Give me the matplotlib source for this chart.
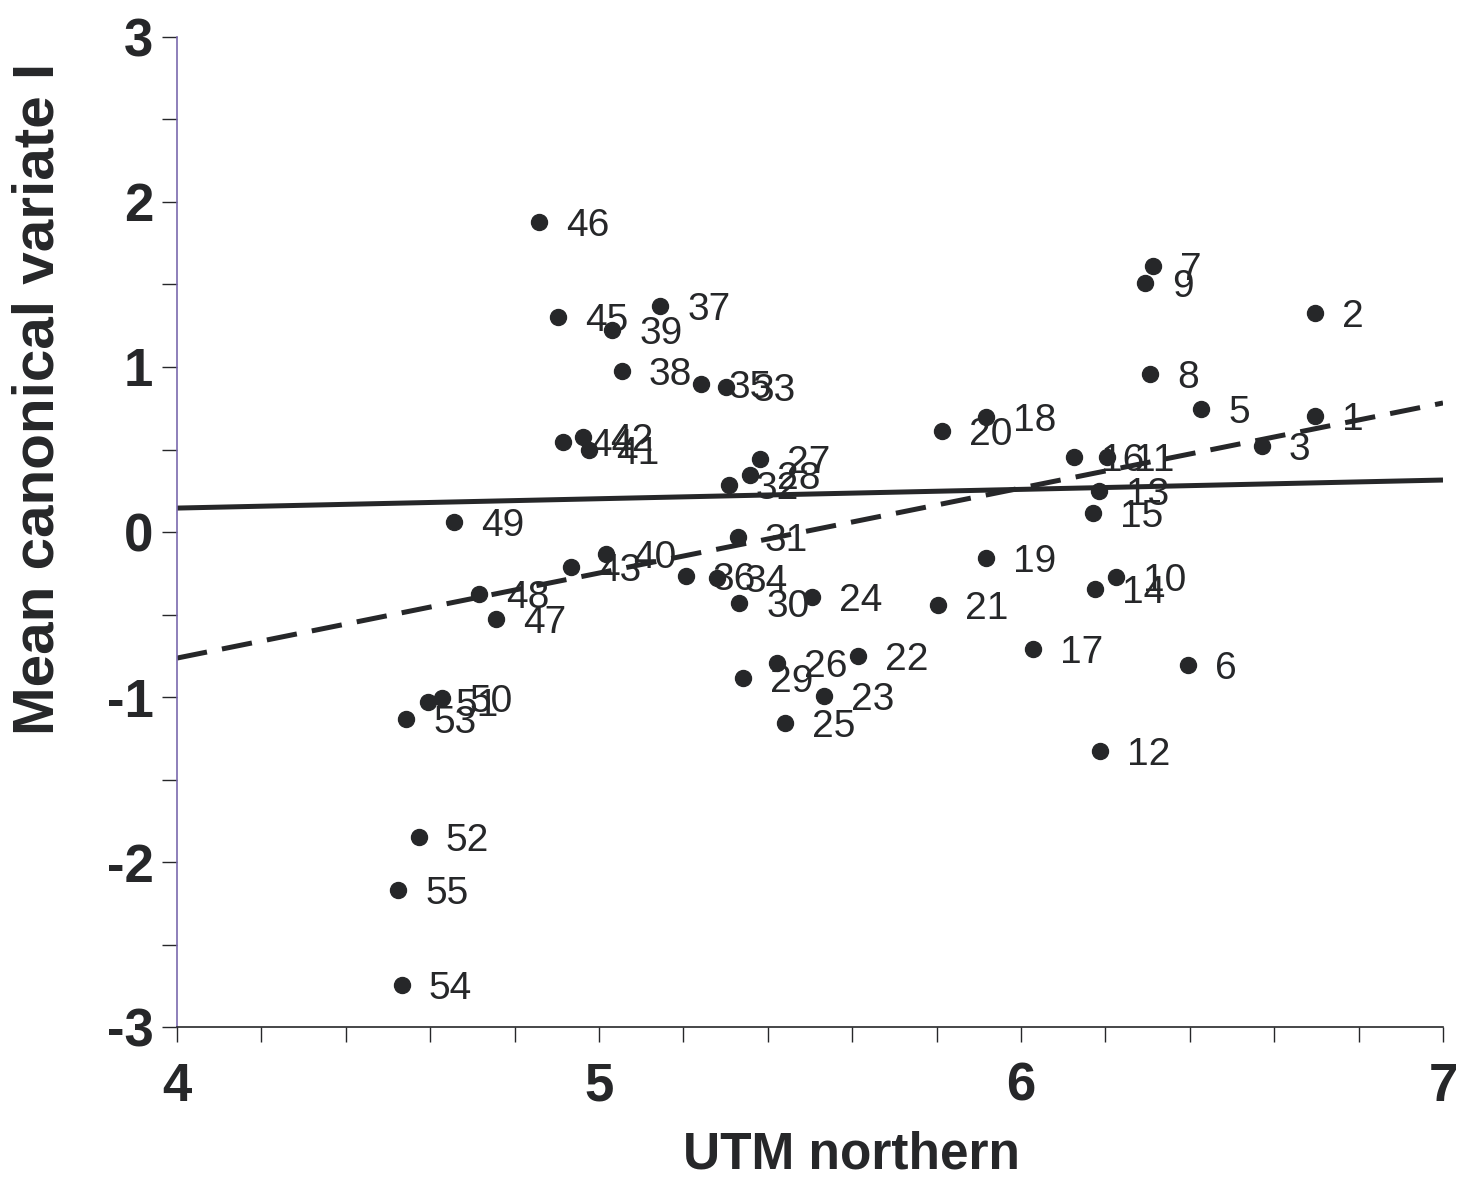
import numpy as np
import matplotlib
matplotlib.use("Agg")
import matplotlib.pyplot as plt
from matplotlib.ticker import MultipleLocator

# site means: UTM northern vs mean canonical variate I
sites = [1, 2, 3, 5, 6, 7, 8, 9, 10, 11, 12, 13, 14, 15, 16, 17, 18, 19, 20,
         21, 22, 23, 24, 25, 26, 27, 28, 29, 30, 31, 32, 33, 34, 35, 36, 37,
         38, 39, 40, 41, 42, 43, 44, 45, 46, 47, 48, 49, 50, 51, 52, 53, 54, 55]
utm = [6.697, 6.697, 6.571, 6.427, 6.396, 6.313, 6.306, 6.294, 6.225, 6.204,
       6.187, 6.185, 6.175, 6.171, 6.126, 6.028, 5.917, 5.917, 5.813, 5.803,
       5.614, 5.533, 5.505, 5.441, 5.422, 5.382, 5.358, 5.341, 5.332, 5.329,
       5.308, 5.301, 5.280, 5.242, 5.206, 5.145, 5.054, 5.031, 5.017, 4.976,
       4.962, 4.934, 4.915, 4.903, 4.858, 4.756, 4.716, 4.656, 4.628, 4.595,
       4.573, 4.543, 4.533, 4.524]
cv1 = [0.703, 1.327, 0.521, 0.745, -0.806, 1.612, 0.958, 1.509, -0.273, 0.455,
       -1.327, 0.248, -0.345, 0.115, 0.455, -0.709, 0.697, -0.158, 0.612, -0.442,
       -0.752, -0.994, -0.394, -1.158, -0.794, 0.442, 0.345, -0.885, -0.430, -0.030,
       0.285, 0.879, -0.279, 0.897, -0.267, 1.370, 0.976, 1.224, -0.133, 0.497,
       0.576, -0.212, 0.545, 1.303, 1.879, -0.527, -0.376, 0.061, -1.006, -1.030,
       -1.848, -1.133, -2.745, -2.170]

# the two fitted lines, read at the axis ends
line_x = [4, 7]
solid_y = [0.145, 0.315]
dashed_y = [-0.764, 0.782]

ink = '#262729'

plt.rcParams['lines.scale_dashes'] = False
plt.rcParams['axes.unicode_minus'] = False
fig = plt.figure(figsize=(14.69, 11.85), dpi=100)
ax = fig.add_axes([0.1205, 0.1333, 0.8618, 0.8355])

ax.plot(line_x, solid_y, color=ink, lw=3.6, solid_capstyle='butt')
ax.plot(line_x, dashed_y, color=ink, lw=3.6, dashes=(22, 11))
ax.plot(utm, cv1, 'o', color=ink, ms=11.5, mec=ink)

for s, x, y in zip(sites, utm, cv1):
    ax.annotate(str(s), (x, y), xytext=(27, -14), textcoords='offset pixels',
                va='baseline', ha='left', fontsize=28, color=ink,
                family='Liberation Sans')

ax.set_xlim(4, 7)
ax.set_ylim(-3, 3)
ax.xaxis.set_major_locator(MultipleLocator(1))
ax.xaxis.set_minor_locator(MultipleLocator(0.2))
ax.yaxis.set_major_locator(MultipleLocator(1))
ax.yaxis.set_minor_locator(MultipleLocator(0.5))

for sp in ['top', 'right']:
    ax.spines[sp].set_visible(False)
ax.spines['left'].set_color('#7a6aae')
ax.spines['left'].set_linewidth(1.2)
ax.spines['bottom'].set_color(ink)
ax.spines['bottom'].set_linewidth(1.2)

ax.tick_params(axis='both', which='both', direction='out', length=11,
               width=1.0, color=ink)
ax.tick_params(axis='x', which='major', pad=14)
ax.tick_params(axis='y', which='major', pad=6)

for t in ax.get_xticklabels() + ax.get_yticklabels():
    t.set_fontfamily('Liberation Sans')
    t.set_fontweight('bold')
    t.set_fontsize(38)
    t.set_color(ink)

ax.set_xlabel('UTM northern', fontsize=37, fontweight='bold',
              family='Liberation Sans', color=ink)
ax.set_ylabel('Mean canonical variate I', fontsize=42, fontweight='bold',
              family='Liberation Sans', color=ink)
ax.xaxis.set_label_coords(0.533, -0.104)
ax.yaxis.set_label_coords(-0.088, 0.634)

fig.savefig('out.png', dpi=100)
